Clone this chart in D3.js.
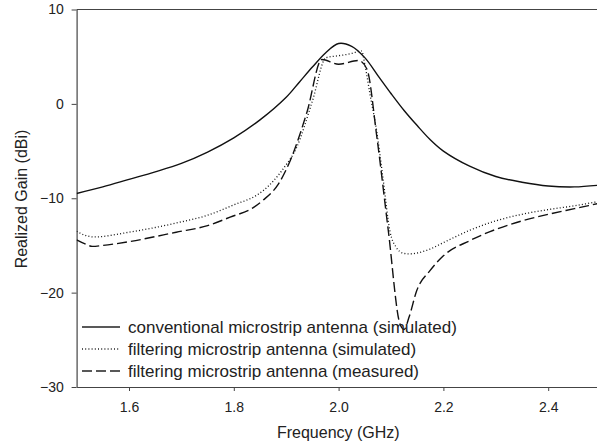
<!DOCTYPE html>
<html>
<head>
<meta charset="utf-8">
<script src="https://cdn.jsdelivr.net/npm/d3@7"></script>
<style>
  body { margin: 0; background: #fff; }
  svg { display: block; font-family: "Liberation Sans", Arial, sans-serif; }
</style>
</head>
<body>
<script>
// frequency (GHz) / realized gain (dBi)
var convFreq = [1.5, 1.55, 1.6, 1.65, 1.7, 1.75, 1.8, 1.85, 1.9, 1.925, 1.95, 1.975, 2.0, 2.025, 2.05, 2.075, 2.1, 2.125, 2.15, 2.175, 2.2, 2.25, 2.3, 2.35, 2.4, 2.45, 2.5];
var convGain = [-9.5, -8.8, -8.0, -7.2, -6.3, -5.1, -3.6, -1.7, 0.7, 2.3, 3.9, 5.4, 6.4, 6.1, 4.9, 3.0, 1.1, -0.7, -2.3, -3.8, -5.0, -6.6, -7.7, -8.3, -8.7, -8.8, -8.6];

var filtSimFreq = [1.5, 1.515, 1.533, 1.6, 1.65, 1.7, 1.75, 1.8, 1.843, 1.856, 1.875, 1.894, 1.92, 1.95, 1.976, 2.0, 2.022, 2.044, 2.05, 2.06, 2.073, 2.085, 2.098, 2.11, 2.122, 2.133, 2.15, 2.174, 2.2, 2.25, 2.3, 2.35, 2.4, 2.45, 2.5];
var filtSimGain = [-13.5, -13.9, -14.1, -13.6, -13.1, -12.5, -11.8, -10.7, -9.7, -9.2, -8.2, -6.9, -4.6, 0.3, 4.9, 5.1, 5.3, 5.6, 4.2, 1.0, -3.0, -8.0, -13.5, -15.2, -15.8, -15.9, -15.8, -15.4, -14.7, -13.4, -12.4, -11.7, -11.2, -10.8, -10.3];

var filtMeasFreq = [1.5, 1.515, 1.53, 1.55, 1.6, 1.69, 1.75, 1.793, 1.837, 1.856, 1.885, 1.91, 1.94, 1.968, 2.0, 2.038, 2.054, 2.073, 2.095, 2.117, 2.125, 2.135, 2.149, 2.174, 2.2, 2.25, 2.3, 2.35, 2.4, 2.45, 2.5];
var filtMeasGain = [-14.4, -14.8, -15.1, -15.0, -14.6, -13.6, -12.9, -12.0, -11.0, -10.2, -8.5, -5.7, -0.8, 4.7, 4.2, 4.6, 3.7, -3.5, -13.5, -23.3, -23.9, -22.5, -19.8, -17.7, -16.1, -14.5, -13.3, -12.4, -11.7, -11.1, -10.5];

var xTicks = [1.6, 1.8, 2.0, 2.2, 2.4];
var yTicks = [-30, -20, -10, 0, 10];

var seriesNames = [
  "conventional microstrip antenna (simulated)",
  "filtering microstrip antenna (simulated)",
  "filtering microstrip antenna (measured)"
];
var seriesDash = [null, "1,2.2", "10,4"];

var width = 597, height = 447;
var plotLeft = 76.6, plotRight = 600.6, plotTop = 9.5, plotBottom = 387;

var svg = d3.select("body").append("svg")
    .attr("width", width)
    .attr("height", height);

var x = d3.scaleLinear().domain([1.5, 2.5]).range([plotLeft, plotRight]);
var y = d3.scaleLinear().domain([-30, 10]).range([plotBottom, plotTop]);

var axisColor = "#444";

// top frame line
svg.append("line")
    .attr("x1", plotLeft).attr("x2", plotRight)
    .attr("y1", y(10)).attr("y2", y(10))
    .attr("stroke", axisColor).attr("stroke-width", 1.2);

var xAxis = svg.append("g")
    .attr("transform", "translate(0," + plotBottom + ")")
    .call(d3.axisBottom(x).tickValues(xTicks).tickFormat(d3.format(".1f")).tickSize(4).tickSizeOuter(0));
var yAxis = svg.append("g")
    .attr("transform", "translate(" + plotLeft + ",0)")
    .call(d3.axisLeft(y).tickValues(yTicks).tickSize(5).tickSizeOuter(0));

[xAxis, yAxis].forEach(function (a) {
    a.select(".domain").attr("stroke", axisColor).attr("stroke-width", 1.2);
    a.selectAll(".tick line").attr("stroke", axisColor).attr("stroke-width", 1);
    a.selectAll(".tick text").attr("fill", "#222").style("font-size", "14px")
        .style("font-family", "'Liberation Sans', Arial, sans-serif");
});
xAxis.selectAll(".tick text").attr("dy", "1.25em");
yAxis.selectAll(".tick text").attr("dx", "-0.35em");

svg.append("text")
    .attr("x", (plotLeft + 600) / 2)
    .attr("y", 438)
    .attr("text-anchor", "middle")
    .attr("fill", "#222")
    .style("font-size", "16px")
    .text("Frequency (GHz)");

svg.append("text")
    .attr("transform", "translate(27," + 199 + ") rotate(-90)")
    .attr("text-anchor", "middle")
    .attr("fill", "#222")
    .style("font-size", "16px")
    .text("Realized Gain (dBi)");

// curves: smooth spline for the plain patch, monotone for the filtering ones
var smoothLine = d3.line()
    .x(function (d) { return x(d[0]); })
    .y(function (d) { return y(d[1]); })
    .curve(d3.curveCatmullRom.alpha(0.5));
var line = d3.line()
    .x(function (d) { return x(d[0]); })
    .y(function (d) { return y(d[1]); })
    .curve(d3.curveMonotoneX);

var series = [
    d3.zip(convFreq, convGain),
    d3.zip(filtSimFreq, filtSimGain),
    d3.zip(filtMeasFreq, filtMeasGain)
];

svg.append("clipPath").attr("id", "plotClip")
    .append("rect").attr("x", plotLeft).attr("y", plotTop)
    .attr("width", plotRight - plotLeft).attr("height", plotBottom - plotTop);

var plot = svg.append("g").attr("clip-path", "url(#plotClip)");
for (var i = 0; i < series.length; i++) {
    plot.append("path")
        .datum(series[i])
        .attr("d", i == 0 ? smoothLine : line)
        .attr("fill", "none")
        .attr("stroke", "#111")
        .attr("stroke-width", i == 1 ? 1.3 : 1.4)
        .attr("stroke-dasharray", seriesDash[i]);
}

// legend
var legend = svg.append("g");
for (var i = 0; i < seriesNames.length; i++) {
    var ly = 327 + i * 22;
    legend.append("line")
        .attr("x1", 82).attr("x2", 120)
        .attr("y1", ly).attr("y2", ly)
        .attr("stroke", "#222")
        .attr("stroke-width", 1.3)
        .attr("stroke-dasharray", seriesDash[i]);
    legend.append("text")
        .attr("x", 128)
        .attr("y", ly + 6)
        .attr("fill", "#222")
        .style("font-size", "17px")
        .text(seriesNames[i]);
}
</script>
</body>
</html>
